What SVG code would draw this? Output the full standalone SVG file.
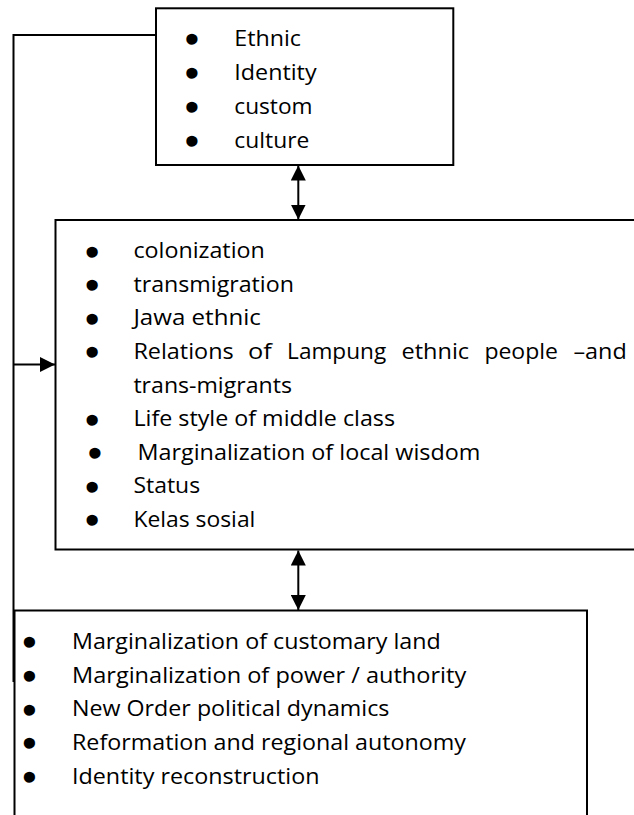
<svg xmlns="http://www.w3.org/2000/svg" width="634" height="815" viewBox="0 0 634 815">
<style>
.box{fill:#fff;stroke:#000;stroke-width:2}
.t{font-family:"Open Sans","Noto Sans","Liberation Sans",sans-serif;font-size:22.5px;fill:#000}
.b{font-family:"Liberation Sans",Arial,sans-serif;font-size:28px;fill:#000;stroke:#000;stroke-width:3.6;stroke-linejoin:round;text-anchor:middle}
.c{fill:none;stroke:#000;stroke-width:2}
</style>
<defs>
<marker id="ah" markerUnits="userSpaceOnUse" markerWidth="15" markerHeight="15" refX="15" refY="7.5" orient="auto-start-reverse">
<path d="M0,0 L15,7.5 L0,15 Z" fill="#000"/>
</marker>
</defs>
<rect width="634" height="815" fill="#fff"/>
<g id="node-top">
<rect class="box" x="156" y="8.3" width="297.3" height="156.7"/>
<text class="b" x="192" y="48.2">•</text>
<text class="b" x="192" y="82.1">•</text>
<text class="b" x="192" y="116">•</text>
<text class="b" x="192" y="149.9">•</text>
<text class="t" x="234.3" y="45.8" textLength="66.7" lengthAdjust="spacingAndGlyphs">Ethnic</text>
<text class="t" x="234.3" y="79.7" textLength="82.3" lengthAdjust="spacingAndGlyphs">Identity</text>
<text class="t" x="234.3" y="113.6" textLength="78.3" lengthAdjust="spacingAndGlyphs">custom</text>
<text class="t" x="234.3" y="147.5" textLength="75" lengthAdjust="spacingAndGlyphs">culture</text>
</g>
<g id="node-middle">
<rect class="box" x="55.5" y="220" width="620" height="329.5"/>
<text class="b" x="92.2" y="260.6">•</text>
<text class="b" x="92.2" y="294.2">•</text>
<text class="b" x="92.2" y="327.8">•</text>
<text class="b" x="92.2" y="361.4">•</text>
<text class="b" x="92.2" y="428.6">•</text>
<text class="b" x="95" y="462.2">•</text>
<text class="b" x="92.2" y="495.8">•</text>
<text class="b" x="92.2" y="529.4">•</text>
<text class="t" x="133.4" y="258.2" textLength="131.4" lengthAdjust="spacingAndGlyphs">colonization</text>
<text class="t" x="133.4" y="291.8" textLength="160.5" lengthAdjust="spacingAndGlyphs">transmigration</text>
<text class="t" x="133.4" y="325.4" textLength="127.4" lengthAdjust="spacingAndGlyphs">Jawa ethnic</text>
<text class="t" y="359"><tspan x="133.4" textLength="100.3" lengthAdjust="spacingAndGlyphs">Relations</tspan> <tspan x="247.9" textLength="23.8" lengthAdjust="spacingAndGlyphs">of</tspan> <tspan x="287.1" textLength="99.1" lengthAdjust="spacingAndGlyphs">Lampung</tspan> <tspan x="401.5" textLength="67.6" lengthAdjust="spacingAndGlyphs">ethnic</tspan> <tspan x="484.4" textLength="73.6" lengthAdjust="spacingAndGlyphs">people</tspan> <tspan x="573.4" textLength="53.4" lengthAdjust="spacingAndGlyphs">–and</tspan></text>
<text class="t" x="133.4" y="392.6" textLength="158.5" lengthAdjust="spacingAndGlyphs">trans-migrants</text>
<text class="t" x="133.4" y="426.2" textLength="261.6" lengthAdjust="spacingAndGlyphs">Life style of middle class</text>
<text class="t" x="137.5" y="459.8" textLength="342.9" lengthAdjust="spacingAndGlyphs">Marginalization of local wisdom</text>
<text class="t" x="133.4" y="493.4" textLength="66.7" lengthAdjust="spacingAndGlyphs">Status</text>
<text class="t" x="133.4" y="527" textLength="122" lengthAdjust="spacingAndGlyphs">Kelas sosial</text>
</g>
<g id="node-bottom">
<rect class="box" x="14.5" y="610.5" width="572.5" height="300"/>
<text class="b" x="29.3" y="651.3">•</text>
<text class="b" x="29.3" y="685">•</text>
<text class="b" x="29.3" y="718.7">•</text>
<text class="b" x="29.3" y="752.4">•</text>
<text class="b" x="29.3" y="786.1">•</text>
<text class="t" x="72" y="648.9" textLength="368.8" lengthAdjust="spacingAndGlyphs">Marginalization of customary land</text>
<text class="t" x="72" y="682.6" textLength="394.2" lengthAdjust="spacingAndGlyphs">Marginalization of power / authority</text>
<text class="t" x="72" y="716.3" textLength="317.4" lengthAdjust="spacingAndGlyphs">New Order political dynamics</text>
<text class="t" x="72" y="750" textLength="393.9" lengthAdjust="spacingAndGlyphs">Reformation and regional autonomy</text>
<text class="t" x="72" y="783.7" textLength="247.5" lengthAdjust="spacingAndGlyphs">Identity reconstruction</text>
</g>
<g id="connectors">
<path class="c" d="M156,35 H13.5 V682"/>
<path class="c" d="M13.5,364.5 H55" marker-end="url(#ah)"/>
<path class="c" d="M298.3,165.5 V219.5" marker-start="url(#ah)" marker-end="url(#ah)"/>
<path class="c" d="M298.3,550.5 V610" marker-start="url(#ah)" marker-end="url(#ah)"/>
</g>
</svg>
